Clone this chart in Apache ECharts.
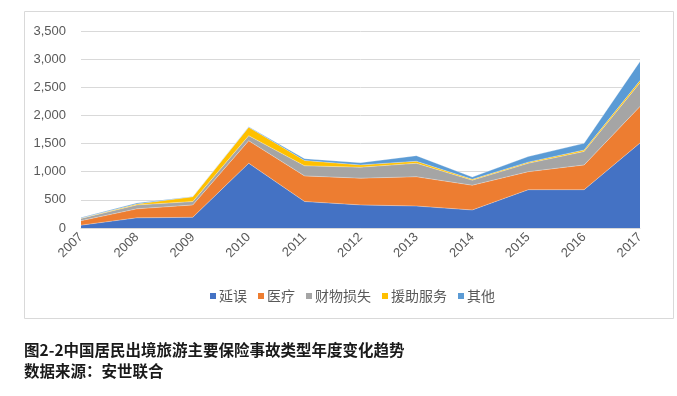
<!DOCTYPE html>
<html><head><meta charset="utf-8">
<script src="https://cdn.jsdelivr.net/npm/echarts@6/dist/echarts.min.js"></script>
<style>html,body{margin:0;padding:0;background:#fff}#c{width:677px;height:396px}</style>
</head><body><div id="c"></div>
<script>
var years = ['2007','2008','2009','2010','2011','2012','2013','2014','2015','2016','2017'];
var delay     = [50, 180, 190, 1150, 470, 410, 390, 320, 680, 680, 1510];
var medical   = [80, 160, 220, 400, 455, 475, 520, 440, 320, 440, 650];
var property  = [40, 70, 60, 90, 180, 195, 240, 90, 150, 240, 420];
var assist    = [5, 15, 85, 150, 95, 40, 35, 15, 20, 25, 40];
var other     = [10, 20, 5, 10, 30, 40, 100, 40, 100, 120, 340];
var seriesNames = ['延误','医疗','财物损失','援助服务','其他'];
var colors = ['#4472C4','#ED7D31','#A5A5A5','#FFC000','#5B9BD5'];
var yTicks = [0, 3500, 500];

var chart = echarts.init(document.getElementById('c'));
var allData = [delay, medical, property, assist, other];
var font = '"Noto Sans CJK SC", "Noto Sans", sans-serif';
chart.setOption({
  animation: false,
  textStyle: {fontFamily: font},
  color: colors,
  graphic: [
    {type:'rect', shape:{x:24.5, y:11.5, width:649, height:307}, style:{fill:'none', stroke:'#d9d9d9', lineWidth:1}, z:-1},
    {type:'text', left:24, top:342, style:{text:'图2-2中国居民出境旅游主要保险事故类型年度变化趋势', font:'bold 15.5px "Noto Sans CJK SC"', fill:'#1a1a1a'}},
    {type:'text', left:24, top:363, style:{text:'数据来源：安世联合', font:'bold 15.5px "Noto Sans CJK SC"', fill:'#1a1a1a'}}
  ],
  legend: {
    data: seriesNames, left: 205, top: 284, icon: 'rect', itemWidth: 6, itemHeight: 6, itemGap: 11,
    textStyle: {color:'#595959', fontSize: 14, fontFamily: font, padding:[0,0,0,-2]}
  },
  grid: {left: 81, right: 37, top: 31, bottom: 168},
  xAxis: {
    type: 'category', data: years, boundaryGap: false,
    axisLine: {lineStyle: {color:'#d9d9d9'}}, axisTick: {show:false},
    axisLabel: {rotate: 45, color:'#595959', fontSize: 13, margin: 7, fontFamily: 'Liberation Sans, sans-serif'}
  },
  yAxis: {
    type: 'value', min: yTicks[0], max: yTicks[1], interval: yTicks[2],
    axisLine: {show:false}, axisTick: {show:false},
    splitLine: {lineStyle: {color:'#d9d9d9'}},
    axisLabel: {color:'#595959', fontSize: 13, margin: 15, fontFamily: 'Liberation Sans, sans-serif',
      formatter: function(v){ return v.toLocaleString('en-US'); }}
  },
  series: seriesNames.map(function(n, i){
    return {name:n, type:'line', stack:'total', data: allData[i], showSymbol:false, symbol:'none',
      lineStyle:{width:0.6, color:'rgba(255,255,255,0.5)'}, areaStyle:{color:colors[i], opacity:1}, itemStyle:{color:colors[i]}};
  })
});
</script></body></html>
